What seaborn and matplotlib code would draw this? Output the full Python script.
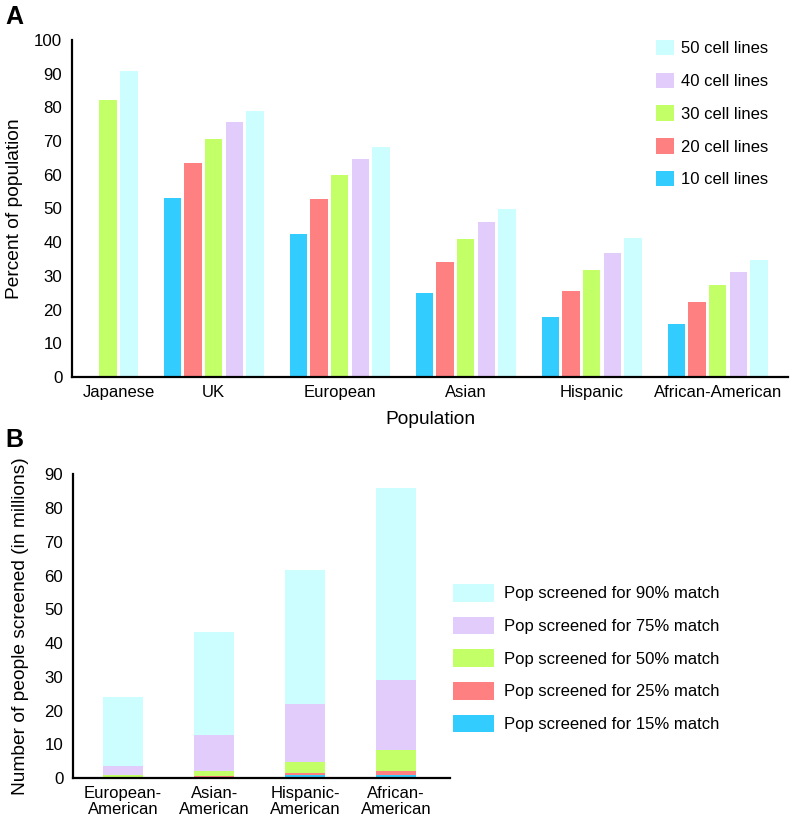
import numpy as np
import pandas as pd
import matplotlib
matplotlib.use("Agg")
import matplotlib.pyplot as plt
import seaborn as sns

# ---------------- data ----------------
groups_a = ["Japanese", "UK", "European", "Asian", "Hispanic", "African-American"]
series_a = ["10 cell lines", "20 cell lines", "30 cell lines", "40 cell lines", "50 cell lines"]
vals_10 = [None, 53.0, 42.4, 24.8, 17.7, 15.7]
vals_20 = [None, 63.6, 52.8, 34.0, 25.6, 22.3]
vals_30 = [82.2, 70.5, 59.8, 40.9, 31.7, 27.4]
vals_40 = [None, 75.6, 64.7, 45.9, 36.9, 31.2]
vals_50 = [90.8, 78.9, 68.2, 49.9, 41.2, 34.7]

groups_b = ["European-American", "Asian-American", "Hispanic-American", "African-American"]
ticklabels_b = ["European-\nAmerican", "Asian-\nAmerican", "Hispanic-\nAmerican", "African-\nAmerican"]
series_b = ["Pop screened for 90% match", "Pop screened for 75% match",
            "Pop screened for 50% match", "Pop screened for 25% match",
            "Pop screened for 15% match"]
match_90 = [23.9, 43.4, 61.5, 86.0]
match_75 = [3.6, 12.8, 21.8, 29.1]
match_50 = [0.8, 2.1, 4.6, 8.4]
match_25 = [0.4, 0.7, 1.5, 2.1]
match_15 = [0.2, 0.3, 0.8, 1.0]

# ---------------- style ----------------
sns.set_style("white")
plt.rcParams["font.family"] = ["Liberation Sans", "DejaVu Sans"]
plt.rcParams["axes.linewidth"] = 1.6
plt.rcParams["axes.edgecolor"] = "black"
plt.rcParams["text.color"] = "black"
plt.rcParams["axes.labelcolor"] = "black"
plt.rcParams["xtick.color"] = "black"
plt.rcParams["ytick.color"] = "black"

c_blue, c_red, c_green, c_purple, c_cyan = "#33CCFF", "#FF8080", "#C3FF66", "#E2CCFC", "#CCFDFF"
pal_a = dict(zip(series_a, [c_blue, c_red, c_green, c_purple, c_cyan]))
pal_b = dict(zip(series_b, [c_cyan, c_purple, c_green, c_red, c_blue]))

fig = plt.figure(figsize=(7.93, 8.23), dpi=100)
W, H = 793, 823
axA = fig.add_axes([72 / W, 1 - 377 / H, (788 - 72) / W, (377 - 40) / H])
axB = fig.add_axes([73 / W, 1 - 778 / H, (450 - 73) / W, (778 - 474.3) / H])

# ---------------- panel A ----------------
all_vals = [vals_10, vals_20, vals_30, vals_40, vals_50]
rows = []
centers = []
pos = 0.0
gap = 1.1
for gi, g in enumerate(groups_a):
    start = pos
    for si, s in enumerate(series_a):
        v = all_vals[si][gi]
        if v is None:
            continue
        rows.append({"pos": pos, "value": v, "series": s})
        pos += 1.0
    centers.append((start + pos - 1.0) / 2)
    pos += gap
dfA = pd.DataFrame(rows)
dfA["pos"] = dfA["pos"].round(3)

sns.barplot(data=dfA, x="pos", y="value", hue="series", hue_order=series_a,
            palette=pal_a, native_scale=True, dodge=False, width=0.84,
            saturation=1, errorbar=None, ax=axA, linewidth=0)
axA.set_xlim(-1.75, 32.9)
axA.set_ylim(0, 100)
axA.set_yticks(np.arange(0, 101, 10))
axA.set_xticks(centers)
axA.set_xticklabels(groups_a)
for sp in ["top", "right"]:
    axA.spines[sp].set_visible(False)
axA.tick_params(axis="y", length=5, width=1.5, pad=2, labelsize=12.2, color="black")
axA.tick_params(axis="x", length=0, pad=6, labelsize=12)
axA.set_ylabel("Percent of population", fontsize=13.8, labelpad=8)
axA.set_xlabel("Population", fontsize=13.8, labelpad=8)
h, l = axA.get_legend_handles_labels()
axA.legend(h[::-1], l[::-1], loc="upper left", bbox_to_anchor=(656 / W, 1 - 40 / H),
           bbox_transform=fig.transFigure, frameon=False, fontsize=12,
           handlelength=1.1, handleheight=1.05, handletextpad=0.4,
           labelspacing=0.98, borderpad=0, borderaxespad=0)

# ---------------- panel B ----------------
all_b = [match_90, match_75, match_50, match_25, match_15]
rowsB = []
for si, s in enumerate(series_b):
    for gi, g in enumerate(groups_b):
        rowsB.append({"group": g, "value": all_b[si][gi], "series": s})
dfB = pd.DataFrame(rowsB)
sns.barplot(data=dfB, x="group", y="value", hue="series", hue_order=series_b,
            order=groups_b, palette=pal_b, dodge=False, width=0.44,
            saturation=1, errorbar=None, ax=axB, linewidth=0)
axB.set_xlim(-0.55, 3.59)
axB.set_ylim(0, 90)
axB.set_yticks(np.arange(0, 91, 10))
axB.set_xticks(range(len(groups_b)))
axB.set_xticklabels(ticklabels_b, linespacing=1.05)
for sp in ["top", "right"]:
    axB.spines[sp].set_visible(False)
axB.tick_params(axis="y", length=5, width=1.5, pad=2, labelsize=12.2, color="black")
axB.tick_params(axis="x", length=0, pad=6, labelsize=12)
axB.set_ylabel("Number of people screened (in millions)", fontsize=13.8, labelpad=11)
axB.set_xlabel("")
h, l = axB.get_legend_handles_labels()
axB.legend(h, l, loc="upper left", bbox_to_anchor=(453 / W, 1 - 584 / H),
           bbox_transform=fig.transFigure, frameon=False, fontsize=12,
           handlelength=2.45, handleheight=1.25, handletextpad=0.6,
           labelspacing=0.9, borderpad=0, borderaxespad=0)

fig.text(5 / W, 1 - 24 / H, "A", fontsize=18, fontweight="bold", va="baseline")
fig.text(5 / W, 1 - 447 / H, "B", fontsize=18, fontweight="bold", va="baseline")

fig.savefig("out.png", dpi=100)
